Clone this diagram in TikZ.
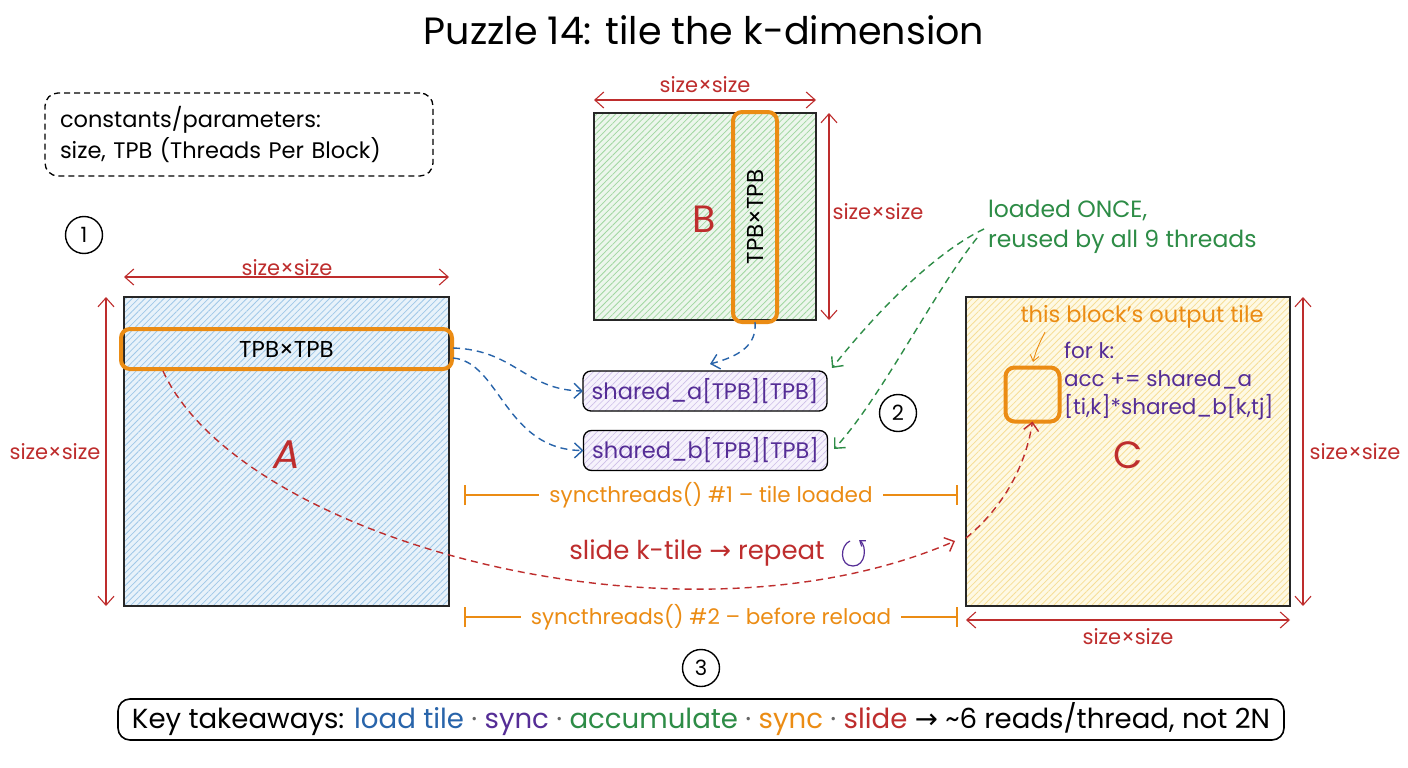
\documentclass[tikz,border=0pt]{standalone}
\usepackage{fontspec}
\setmainfont{Poppins}
\newfontfamily\symf{DejaVu Sans}
\usetikzlibrary{arrows.meta,patterns.meta,calc}
\definecolor{cred}{RGB}{190,45,45}
\definecolor{cblue}{RGB}{40,100,170}
\definecolor{cgreen}{RGB}{45,140,70}
\definecolor{corange}{RGB}{235,140,20}
\definecolor{cpurple}{RGB}{85,45,150}
\definecolor{hblue}{RGB}{160,200,232}
\definecolor{lblue}{RGB}{232,242,250}
\definecolor{hgreen}{RGB}{160,215,160}
\definecolor{lgreen}{RGB}{236,246,236}
\definecolor{hyellow}{RGB}{246,222,150}
\definecolor{lyellow}{RGB}{254,249,228}
\definecolor{hpurple}{RGB}{205,190,232}
\definecolor{lpurple}{RGB}{246,242,252}
\newcommand\fsz[2]{\fontsize{#1}{#2}\selectfont}
\begin{document}
\begin{tikzpicture}[x=1pt,y=-1pt,
  every node/.style={inner sep=0pt,outer sep=0pt},
  mat/.style={draw=black!85,line width=1.8pt},
  hatchb/.style={preaction={fill=lblue},pattern={Lines[angle=45,distance=4.5pt,line width=0.8pt]},pattern color=hblue},
  hatchg/.style={preaction={fill=lgreen},pattern={Lines[angle=45,distance=4.5pt,line width=0.8pt]},pattern color=hgreen},
  hatchy/.style={preaction={fill=lyellow},pattern={Lines[angle=45,distance=4.5pt,line width=0.8pt]},pattern color=hyellow},
  hatchp/.style={preaction={fill=lpurple},pattern={Lines[angle=45,distance=4.5pt,line width=0.6pt]},pattern color=hpurple},
  tile/.style={draw=corange,line width=4pt,rounded corners=9pt},
  dimarr/.style={draw=cred,line width=1.1pt,{Straight Barb[length=9pt,width=16pt]}-{Straight Barb[length=9pt,width=16pt]}},
  dimlbl/.style={text=cred,font=\fsz{21}{24}},
  biglbl/.style={text=cred,font=\fsz{38}{40}},
  shbox/.style={draw=black,line width=1.3pt,rounded corners=8pt,hatchp,text=cpurple,font=\fsz{22.5}{26},minimum width=244pt,minimum height=40pt},
  numc/.style={circle,draw=black,line width=1.4pt,minimum size=37pt,font=\fsz{21}{22}},
  dasharr/.style={line width=1.4pt,dash pattern=on 7pt off 5pt,-{Straight Barb[length=8pt,width=15pt]}},
  syncbar/.style={draw=corange,line width=1.6pt,{Bar[width=20pt]}-{Bar[width=20pt]}},
  synclbl/.style={fill=white,inner xsep=10pt,inner ysep=3pt,text=corange,font=\fsz{21.5}{24}}
]
\useasboundingbox[fill=white] (0,0) rectangle (1408,768);

% title
\node[font=\fsz{38}{42}] (title) at (704,30) {Puzzle 14: tile the k-dimension};

% constants box
\node[draw,line width=1.3pt,dash pattern=on 6pt off 4pt,rounded corners=13pt,
      text width=358pt,inner xsep=15pt,minimum height=83pt,align=left,font=\fsz{22.5}{31}] (cbox) at (239,134.5)
  {constants/parameters:\\size, TPB (Threads Per Block)};

% step numbers
\node[numc] (n1) at (84,235) {1};
\node[numc] (n2) at (898,413) {2};
\node[numc] (n3) at (701,668) {3};

% matrix A
\node[mat,hatchb,minimum width=325pt,minimum height=309pt] (A) at (286.5,451.5) {};
\node[tile,minimum width=331pt,minimum height=40pt,font=\fsz{23}{24}] (At) at (286.5,349) {TPB×TPB};
\node[biglbl,font=\fsz{40}{42}\itshape] (Al) at (287,455) {A};
\coordinate (Atop1) at (124,277); \coordinate (Atop2) at (449,277);
\draw[dimarr] (Atop1) -- (Atop2);
\node[dimlbl,anchor=south] (Atl) at (287,276) {size×size};
\coordinate (Alf1) at (106,297); \coordinate (Alf2) at (106,606);
\draw[dimarr] (Alf1) -- (Alf2);
\node[dimlbl] (Aleft) at (55,452) {size×size};

% matrix B
\node[mat,hatchg,minimum width=222pt,minimum height=207pt] (B) at (705,216.5) {};
\node[tile,minimum width=44pt,minimum height=210pt] (Bt) at (755,217) {};
\node[rotate=90,font=\fsz{23}{24}] (Btl) at (Bt.center) {TPB×TPB};
\node[biglbl] (Bl) at (704,219) {B};
\coordinate (Btp1) at (594,100); \coordinate (Btp2) at (816,100);
\draw[dimarr] (Btp1) -- (Btp2);
\node[dimlbl] (Btl2) at (705,85) {size×size};
\coordinate (Brt1) at (829,113); \coordinate (Brt2) at (829,320);
\draw[dimarr] (Brt1) -- (Brt2);
\node[dimlbl] (Bright) at (878,212) {size×size};

% matrix C
\node[mat,hatchy,minimum width=324pt,minimum height=309pt] (C) at (1128,451.5) {};
\node[biglbl] (Cl) at (1128,455) {C};
\node[tile,minimum size=54pt] (Ct) at (1032.5,394.5) {};
\node[text=corange,font=\fsz{22.5}{24}] (Ctl) at (1142,317) {this block's output tile};
\coordinate (cta) at (1045,332); \coordinate (ctb) at (1033,362);
\draw[corange,line width=0.9pt,-{Straight Barb[length=6pt,width=9pt]}] (cta) .. controls (1040,342) and (1036,350) .. (ctb);
\node[anchor=west,align=left,text=cpurple,font=\fsz{21.5}{28}] (code) at (1064,381)
  {for k:\\acc += shared\_a\\{}[ti,k]*shared\_b[k,tj]};
\coordinate (Crt1) at (1303,297); \coordinate (Crt2) at (1303,606);
\draw[dimarr] (Crt1) -- (Crt2);
\node[dimlbl] (Cright) at (1355,452) {size×size};
\coordinate (Cbt1) at (966,620); \coordinate (Cbt2) at (1290,620);
\draw[dimarr] (Cbt1) -- (Cbt2);
\node[dimlbl] (Cbot) at (1128,637) {size×size};

% shared buffers
\node[shbox] (sa) at (705,391) {shared\_a[TPB][TPB]};
\node[shbox] (sb) at (705.5,450.5) {shared\_b[TPB][TPB]};

% blue arrows
\coordinate (a1) at (453,348); \coordinate (a2) at (453,358);
\draw[dasharr,cblue] (a1) .. controls (515,350) and (525,390) .. (sa.west);
\draw[dasharr,cblue] (a2) .. controls (500,362) and (505,450) .. (sb.west);
\coordinate (saT) at (710,364);
\draw[dasharr,cblue] (Bt.south) .. controls (757,345) and (740,356) .. (saT);

% green note and arrows
\node[anchor=west,align=left,text=cgreen,font=\fsz{23.5}{30}] (note) at (988,227)
  {loaded ONCE,\\reused by all 9 threads};
\coordinate (g1) at (984,229); \coordinate (g2) at (977,238);
\coordinate (saE) at (832,368); \coordinate (sbE) at (834,449);
\draw[dasharr,cgreen] (g1) .. controls (930,255) and (870,320) .. (saE);
\draw[dasharr,cgreen] (g2) .. controls (935,290) and (880,400) .. (sbE);

% sync bars
\coordinate (s1l) at (464,495); \coordinate (s1r) at (958,495);
\draw[syncbar] (s1l) -- node[synclbl] (s1t) {syncthreads() \#1 – tile loaded} (s1r);
\coordinate (s2l) at (464,617); \coordinate (s2r) at (958,617);
\draw[syncbar] (s2l) -- node[synclbl] (s2t) {syncthreads() \#2 – before reload} (s2r);

% slide curve
\coordinate (r0) at (163,371); \coordinate (r1) at (955,541); \coordinate (r2) at (966,538);
\draw[dasharr,cred] (r0) .. controls (240,540) and (680,660) .. (r1);
\draw[dasharr,cred] (r2) .. controls (1000,510) and (1025,470) .. (Ct.south);
\node[text=cred,font=\fsz{26}{28}] (slide) at (697,553) {slide k-tile {\symf →} repeat};
\draw[cpurple,line width=1.2pt,-{Straight Barb[length=5pt,width=7pt]}]
  (850,541) .. controls (840,545) and (839,566) .. (853,566) .. controls (866,566) and (867,546) .. (859,540);

% key takeaways
\node[draw,line width=1.6pt,rounded corners=12pt,minimum width=1166pt,minimum height=41pt,font=\fsz{27.6}{30}] (kt) at (701,719.5)
  {Key takeaways: \textcolor{cblue}{load tile} \textcolor{black!60}{·} \textcolor{cpurple}{sync} \textcolor{black!60}{·} \textcolor{cgreen}{accumulate} \textcolor{black!60}{·} \textcolor{corange}{sync} \textcolor{black!60}{·} \textcolor{cred}{slide} {\symf →} \textasciitilde6 reads/thread, not 2N};
\end{tikzpicture}
\end{document}
